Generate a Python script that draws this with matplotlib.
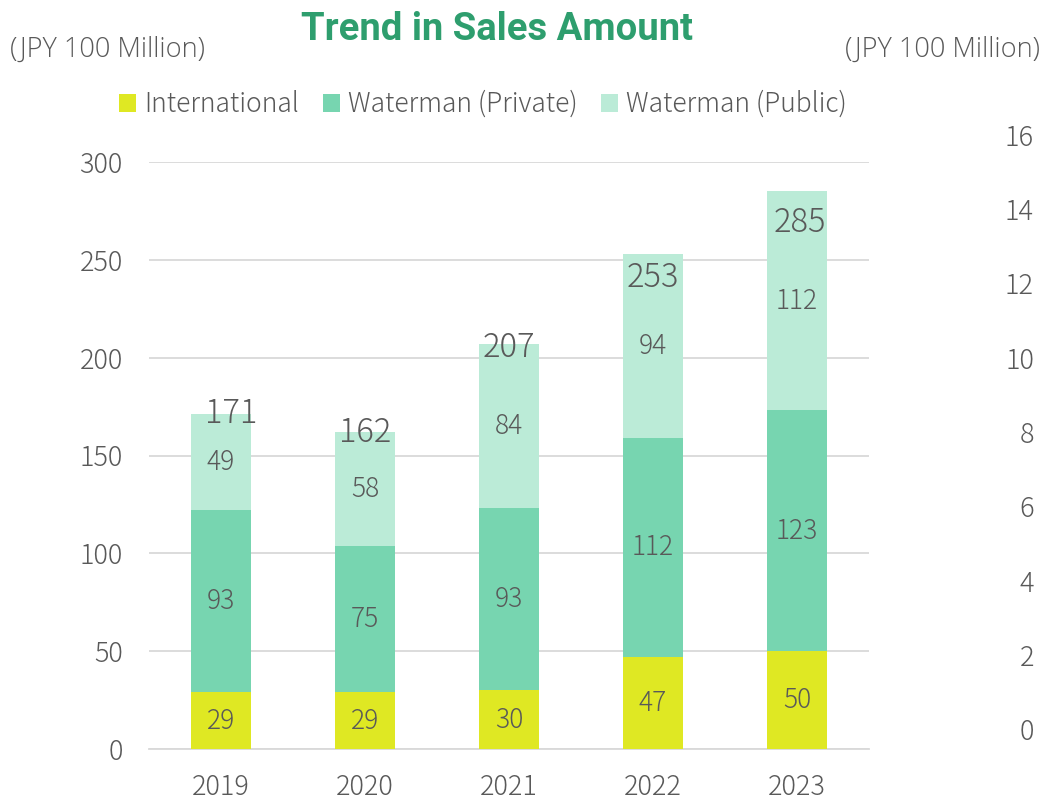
import matplotlib
matplotlib.use("Agg")
import matplotlib.pyplot as plt
import numpy as np

years = ["2019", "2020", "2021", "2022", "2023"]
international = [29, 29, 30, 47, 50]
private = [93, 75, 93, 112, 123]
public = [49, 58, 84, 94, 112]
totals = [171, 162, 207, 253, 285]
series_names = ["International", "Waterman (Private)", "Waterman (Public)"]
left_ticks = [0, 50, 100, 150, 200, 250, 300]
right_ticks = [0, 2, 4, 6, 8, 10, 12, 14, 16]

colors = ["#DFE823", "#77D5B0", "#BBEBD7"]
txt = "#595959"
FONT = ["Noto Sans CJK JP", "DejaVu Sans"]
plt.rcParams['font.family'] = FONT

W, H = 1042, 801
fig = plt.figure(figsize=(W / 100, H / 100), dpi=100)

def fx(px):
    return px / W

def fy(py):
    return 1 - py / H

ax = fig.add_axes([fx(149), fy(749), fx(869) - fx(149), fy(162) - fy(749)])
x = np.arange(len(years))
bw = 0.417
stacks = [international, private, public]
bottom = np.zeros(len(years))
for vals, c, name in zip(stacks, colors, series_names):
    vals = np.array(vals, dtype=float)
    ax.bar(x, vals, bw, bottom=bottom, color=c, label=name, zorder=3, linewidth=0)
    for xi, b, v in zip(x, bottom, vals):
        ax.text(xi, b + v / 2, f"{int(v)}", ha="center", va="center",
                fontsize=19, color=txt, zorder=4, family=FONT, fontweight="light")
    bottom = bottom + vals

# total labels (pixel offsets relative to bar tops, style only)
total_offsets_px = [1, -1, -4, -24, -31]
total_dx_px = [10, 0, 0, 0, 3]
for xi, t, dy, dx in zip(x, totals, total_offsets_px, total_dx_px):
    ax.annotate(f"{t}", xy=(xi, t), xytext=(dx * 0.72, dy * 0.72), textcoords="offset points",
                ha="center", va="center", fontsize=23.5, color=txt, zorder=5,
                family=FONT, fontweight="light")

ax.set_xlim(-0.5, len(years) - 0.5)
ax.set_ylim(0, 300)
ax.set_yticks(left_ticks)
ax.set_xticks(x)
ax.set_xticklabels(years)
ax.yaxis.grid(True, color="#D9D9D9", linewidth=1.3, zorder=0)
for s in ["top", "right", "left"]:
    ax.spines[s].set_visible(False)
ax.spines["bottom"].set_color("#D9D9D9")
ax.spines["bottom"].set_linewidth(1.3)
ax.tick_params(axis="both", length=0, labelsize=19.5, labelcolor=txt)
ax.tick_params(axis="y", pad=19)
ax.tick_params(axis="x", pad=17)
for lab in ax.get_xticklabels() + ax.get_yticklabels():
    lab.set_fontweight("light")

# right axis
ax2 = fig.add_axes([fx(869), fy(729), 0.001, fy(135) - fy(729)])
ax2.set_ylim(0, 16)
ax2.set_xticks([])
ax2.yaxis.tick_right()
ax2.set_yticks(right_ticks)
ax2.tick_params(axis="y", length=0, labelsize=19.5, labelcolor=txt, pad=118)
for lab in ax2.get_yticklabels():
    lab.set_fontweight("light")
    lab.set_horizontalalignment("right")
for s in ax2.spines.values():
    s.set_visible(False)
ax2.patch.set_visible(False)

# legend
handles, labels = ax.get_legend_handles_labels()
fig.legend(handles, labels, loc="center", bbox_to_anchor=(fx(483), fy(104)), ncol=3,
           frameon=False, labelcolor=txt, handlelength=0.65, handleheight=0.65,
           handletextpad=0.3, columnspacing=0.9, borderaxespad=0,
           prop={"family": FONT, "size": 19, "weight": "light"})

fig.text(fx(497), fy(30), "Trend in Sales Amount", ha="center", va="center",
         fontsize=27.5, color="#2E9E6E", fontweight="bold", family="Roboto")
fig.text(fx(10), fy(50), "(JPY 100 Million)", ha="left", va="center", fontsize=19.5,
         color=txt, family="Open Sans", fontweight="light")
fig.text(fx(1040), fy(50), "(JPY 100 Million)", ha="right", va="center", fontsize=19.5,
         color=txt, family="Open Sans", fontweight="light")

fig.savefig("out.png", dpi=100)
